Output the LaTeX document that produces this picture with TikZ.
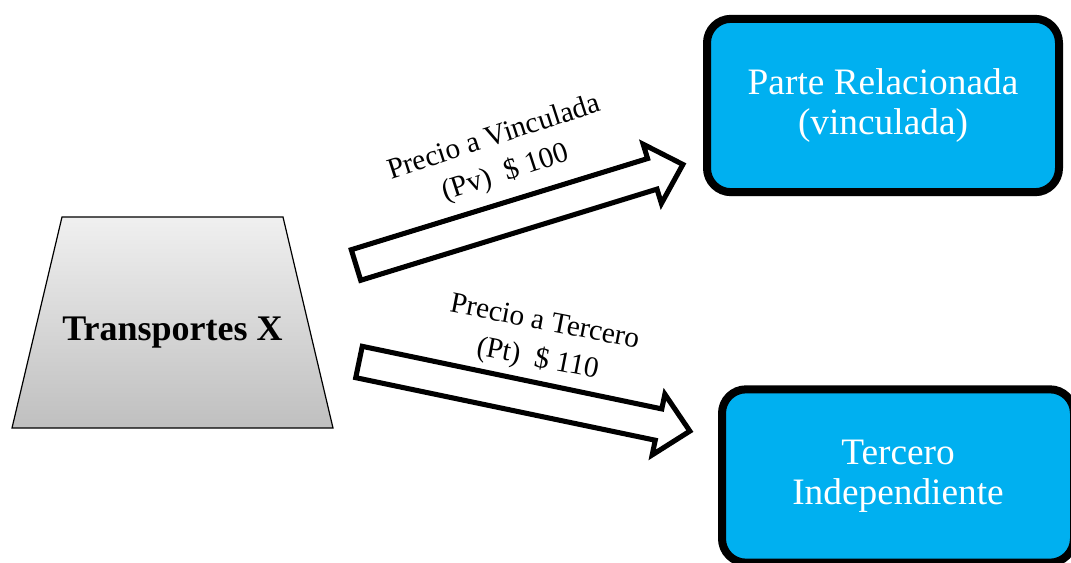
\documentclass[tikz,border=0pt]{standalone}
\usepackage{fontspec}
\setmainfont{Liberation Serif}
\usetikzlibrary{shadows}
\definecolor{boxblue}{RGB}{0,176,240}
\tikzset{
  entity/.style={draw=black, line width=6pt, rounded corners=18pt, fill=boxblue,
    text=white, align=center, font=\fontsize{28}{30}\selectfont,
    minimum width=264pt, minimum height=130pt,
    drop shadow={opacity=.4, shadow xshift=1pt, shadow yshift=-3pt}},
  pricearrow/.style={draw=black, line width=3.8pt, fill=white, miter limit=4},
  price/.style={align=center, font=\fontsize{22}{28}\selectfont}
}

\begin{document}
\begin{tikzpicture}[x=.75pt,y=-.75pt]
\useasboundingbox (0,0) rectangle (1071,563);
\clip (0,0) rectangle (1071,563);

% company and the two buyers
\draw[line width=.9pt, top color=gray!12, bottom color=gray!50]
  (62,217) coordinate (TL) --
  (283,217) coordinate (TR) --
  (333,428) coordinate (BR) --
  (12,428) coordinate (BL) -- cycle;
\node[font=\fontsize{27}{30}\selectfont\bfseries] (trans) at (172.5,333) {Transportes X};
\node[entity] (related) at (883,105.5) {Parte Relacionada\\(vinculada)};
\node[entity] (third) at (898,476) {Tercero\\Independiente};

% block arrows
\coordinate (vtail) at (356,265);
\coordinate (ttail) at (359,362);
\foreach \tail/\ang/\len in {vtail/17.1/342,ttail/-11.8/338}
{
  \begin{scope}[shift={(\tail)},rotate=\ang]
    \draw[pricearrow] (0,-16) -- ({\len-32},-16) -- ({\len-32},-31) --
      (\len,0) -- ({\len-32},31) -- ({\len-32},16) -- (0,16) -- cycle;
  \end{scope}
}

\node[price,rotate=18] (pv) at (500,156) {Precio a Vinculada\\(Pv)~~\$ 100};
\node[price,rotate=-11] (pt) at (541,342) {Precio a Tercero\\(Pt)~~\$ 110};
\end{tikzpicture}
\end{document}
